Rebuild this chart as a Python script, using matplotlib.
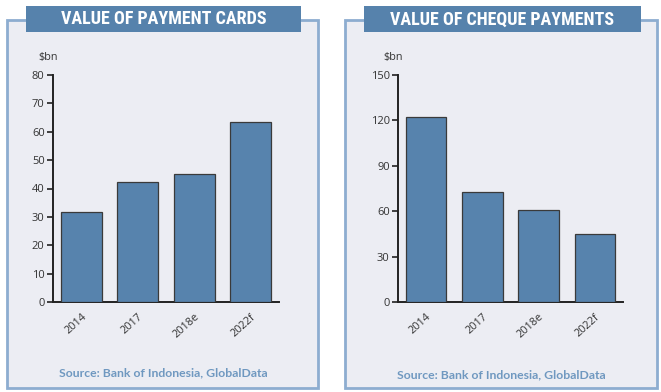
import matplotlib
matplotlib.use("Agg")
import matplotlib.pyplot as plt
from matplotlib.patches import Rectangle

categories = ["2014", "2017", "2018e", "2022f"]
cards_values = [31.7, 42.3, 45.2, 63.3]
cheque_values = [122.2, 72.8, 61.1, 45.2]
cards_ticks = [0, 10, 20, 30, 40, 50, 60, 70, 80]
cheque_ticks = [0, 30, 60, 90, 120, 150]
titles = ["VALUE OF PAYMENT CARDS", "VALUE OF CHEQUE PAYMENTS"]
source = "Source: Bank of Indonesia, GlobalData"
unit = "$bn"

W, H = 661, 392
fig = plt.figure(figsize=(W / 100, H / 100), dpi=100)
fig.patch.set_facecolor("white")

title_font = "Roboto Condensed"
body_font = "Lato"
tick_font = "Open Sans"

panel_bg = "#ECEDF3"
border = "#8DADD0"
banner = "#5682AC"
bar_color = "#5783AD"
src_color = "#6F98C0"

def fx(x):
    return x / W

def fy(y):
    return 1 - y / H

panels = [
    dict(box=(7, 20, 318, 388), ban=(26, 6, 301, 32), ax=(53, 75, 279, 302),
         vals=cards_values, ticks=cards_ticks, title=titles[0], src=(163, 373)),
    dict(box=(345, 20, 657, 388), ban=(364, 6, 641, 32), ax=(398, 75, 623, 302),
         vals=cheque_values, ticks=cheque_ticks, title=titles[1], src=(501, 375)),
]

for p in panels:
    x0, y0, x1, y1 = p["box"]
    fig.patches.append(Rectangle((fx(x0), fy(y1)), fx(x1 - x0), (y1 - y0) / H,
                                 transform=fig.transFigure, facecolor=panel_bg,
                                 edgecolor=border, linewidth=2, zorder=-2))
    bx0, by0, bx1, by1 = p["ban"]
    fig.patches.append(Rectangle((fx(bx0), fy(by1)), fx(bx1 - bx0), (by1 - by0) / H,
                                 transform=fig.transFigure, facecolor=banner,
                                 edgecolor="none", zorder=-1))
    fig.text(fx((bx0 + bx1) / 2), fy((by0 + by1) / 2 + 0.5), p["title"], color="white",
             fontsize=13, fontweight="bold", family=title_font,
             ha="center", va="center", zorder=2)

    ax_x0, ax_y0, ax_x1, ax_y1 = p["ax"]
    ax = fig.add_axes([fx(ax_x0), fy(ax_y1), fx(ax_x1 - ax_x0), (ax_y1 - ax_y0) / H])
    ax.set_zorder(5)
    ax.set_facecolor("none")
    ax.bar(range(len(categories)), p["vals"], width=0.72, color=bar_color,
           edgecolor="#3a3a3a", linewidth=0.9, zorder=3)
    ax.set_xlim(-0.5, len(categories) - 0.5)
    ax.set_ylim(0, p["ticks"][-1])
    ax.set_yticks(p["ticks"])
    ax.set_xticks(range(len(categories)))
    ax.set_xticklabels(categories, rotation=42, ha="right", rotation_mode="anchor",
                       fontsize=7.8, color="#333333", family=tick_font)
    for lab in ax.get_yticklabels():
        lab.set_fontsize(8)
        lab.set_color("#333333")
        lab.set_family(tick_font)
    for s in ["top", "right"]:
        ax.spines[s].set_visible(False)
    for s in ["left", "bottom"]:
        ax.spines[s].set_linewidth(1.4)
        ax.spines[s].set_color("#222222")
    ax.tick_params(axis="y", direction="out", length=4, width=1.2, color="#222222", pad=2)
    ax.tick_params(axis="x", length=0, pad=7)
    ax.text(-0.02, 1.055, unit, transform=ax.transAxes, fontsize=7.8,
            color="#333333", family=tick_font, ha="center", va="bottom")

    sx, sy = p["src"]
    fig.text(fx(sx), fy(sy), source, color=src_color, fontsize=8.8, fontweight="bold",
             family=body_font, ha="center", va="center")

fig.savefig("out.png", dpi=100, facecolor=fig.get_facecolor())
